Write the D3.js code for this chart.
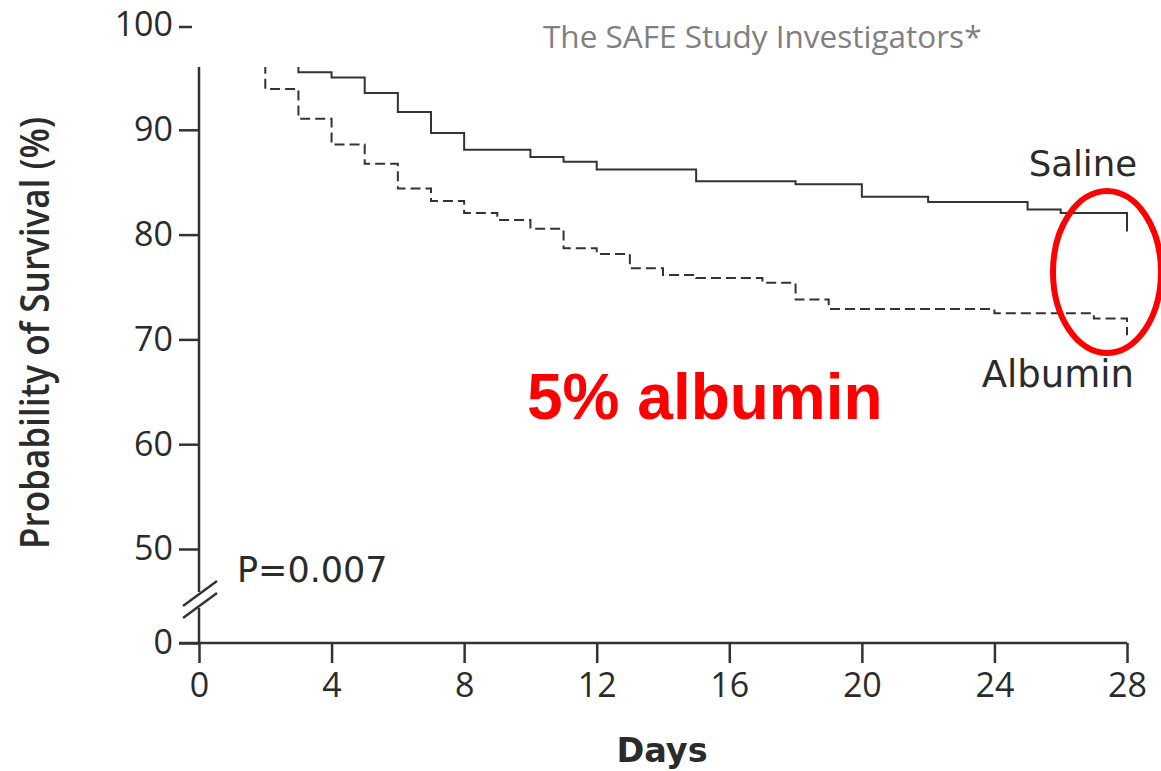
<!DOCTYPE html>
<html>
<head>
<meta charset="utf-8">
<script src="https://cdn.jsdelivr.net/npm/d3@7"></script>
<style>
  body { margin: 0; background: #fff; }
  svg { display: block; }
  text { font-family: "Open Sans", sans-serif; fill: #2b2b2b; }
</style>
</head>
<body>
<div class="chart"></div>
<script>
// Kaplan-Meier steps (day, % surviving)
const salineDays = [0, 1, 2, 3, 4, 5, 6, 7, 8, 10, 11, 12, 15, 18, 20, 22, 25, 26, 28];
const salineSurv = [100, 98.5, 97, 95.5, 95.0, 93.5, 91.7, 89.7, 88.1, 87.4, 86.95, 86.2, 85.1, 84.8, 83.6, 83.1, 82.4, 82.05, 80.3];

const albuminDays = [0, 1, 2, 3, 4, 5, 6, 7, 8, 9, 10, 11, 12, 13, 14, 15, 17, 18, 19, 24, 27, 28];
const albuminSurv = [100, 97.5, 93.9, 91.05, 88.6, 86.75, 84.4, 83.2, 82.05, 81.4, 80.55, 78.7, 78.15, 76.8, 76.15, 75.85, 75.4, 73.8, 72.9, 72.5, 72.0, 70.4];

const xTicks = [0, 4, 8, 12, 16, 20, 24, 28];
const yTicks = [0, 50, 60, 70, 80, 90, 100];

const width = 1161, height = 771;
const labelFont = '"DejaVu Sans", sans-serif';

const svg = d3.select('.chart').append('svg')
  .attr('width', width)
  .attr('height', height);

svg.append('rect').attr('width', width).attr('height', height).attr('fill', '#fff');

// y has a broken axis between 0 and 50
const x = d3.scaleLinear().domain([0, 28]).range([199, 1127]);
const y = d3.scaleLinear().domain([0, 50, 100]).range([643, 549, 25]);
const yTop = 67;

//Axes
const xAxis = svg.append('g')
  .attr('transform', `translate(0,${y(0)})`)
  .call(d3.axisBottom(x).tickValues(xTicks).tickSize(20).tickPadding(10).tickSizeOuter(0));

xAxis.select('.domain').attr('d', `M${x(0) - 20},0H${x(28)}`);

const yAxis = svg.append('g')
  .attr('transform', `translate(${x(0)},0)`)
  .call(d3.axisLeft(y).tickValues(yTicks).tickSize(20).tickPadding(6));

yAxis.select('.domain').remove();
// the 100 mark is only a short dash, not joined to the axis
const top100 = yAxis.selectAll('.tick').filter(d => d === 100)
  .attr('transform', 'translate(0,27)');
top100.select('line').attr('x1', -7).attr('x2', -20);
top100.select('text').attr('dy', '0.32em').attr('y', -2).attr('x', -26);

svg.selectAll('.tick line').attr('stroke', '#333').attr('stroke-width', 2.5);
xAxis.select('.domain').attr('stroke', '#333').attr('stroke-width', 2.5);
svg.selectAll('.tick text').style('font-size', '34px').attr('fill', '#2b2b2b');

// vertical axis line with a gap for the break
const brk = [592, 608];
svg.append('path')
  .attr('d', `M${x(0)},${yTop}V${brk[0]}M${x(0)},${brk[1]}V${y(0)}`)
  .attr('stroke', '#333')
  .attr('stroke-width', 2.5)
  .attr('fill', 'none');

svg.append('g').attr('class', 'break')
  .selectAll('line')
  .data([-6, 6])
  .enter().append('line')
  .attr('x1', x(0) - 16).attr('y1', d => 600 + d + 12)
  .attr('x2', x(0) + 18).attr('y2', d => 600 + d - 13)
  .attr('stroke', '#333')
  .attr('stroke-width', 2.5);

//Curves
svg.append('clipPath').attr('id', 'plotClip')
  .append('rect')
  .attr('x', x(0)).attr('y', yTop)
  .attr('width', x(28) - x(0) + 5).attr('height', y(0) - yTop);

const stepLine = d3.line()
  .x(d => x(d[0]))
  .y(d => y(d[1]))
  .curve(d3.curveStepAfter);

const curves = svg.append('g').attr('clip-path', 'url(#plotClip)');

curves.append('path')
  .datum(d3.zip(salineDays, salineSurv))
  .attr('d', stepLine)
  .attr('fill', 'none')
  .attr('stroke', '#333')
  .attr('stroke-width', 2);

curves.append('path')
  .datum(d3.zip(albuminDays, albuminSurv))
  .attr('d', stepLine)
  .attr('fill', 'none')
  .attr('stroke', '#333')
  .attr('stroke-width', 2)
  .attr('stroke-dasharray', '10,5');

//Labels
svg.append('text')
  .attr('transform', 'translate(49,333) rotate(-90)')
  .attr('text-anchor', 'middle')
  .attr('textLength', 432)
  .attr('lengthAdjust', 'spacingAndGlyphs')
  .style('font-size', '40px')
  .style('font-weight', 600)
  .text('Probability of Survival (%)');

svg.append('text')
  .attr('x', 662).attr('y', 762)
  .attr('text-anchor', 'middle')
  .style('font-family', labelFont)
  .style('font-size', '33.5px')
  .style('font-weight', 700)
  .text('Days');

svg.append('text')
  .attr('x', 543).attr('y', 48)
  .style('font-size', '31.5px')
  .style('fill', '#808080')
  .text('The SAFE Study Investigators*');

svg.append('text')
  .attr('x', 1137).attr('y', 176)
  .attr('text-anchor', 'end')
  .style('font-family', labelFont)
  .style('font-size', '35.5px')
  .text('Saline');

svg.append('text')
  .attr('x', 1134).attr('y', 387)
  .attr('text-anchor', 'end')
  .style('font-family', labelFont)
  .style('font-size', '37px')
  .text('Albumin');

svg.append('text')
  .attr('x', 237).attr('y', 582)
  .style('font-family', labelFont)
  .style('font-size', '35px')
  .text('P=0.007');

svg.append('text')
  .attr('x', 527).attr('y', 419)
  .style('font-family', '"Liberation Sans", Arial, sans-serif')
  .style('font-size', '64px')
  .style('font-weight', 700)
  .style('fill', '#ff0000')
  .text('5% albumin');

// red highlight round the curve ends
svg.append('ellipse')
  .attr('cx', 1107).attr('cy', 272)
  .attr('rx', 54).attr('ry', 81)
  .attr('fill', 'none')
  .attr('stroke', '#ff0000')
  .attr('stroke-width', 6);
</script>
</body>
</html>
